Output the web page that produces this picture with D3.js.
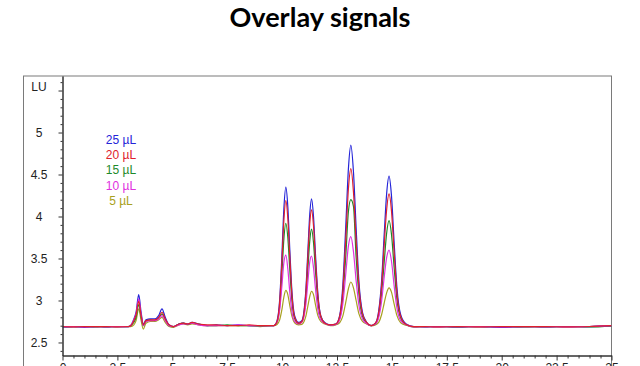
<!DOCTYPE html>
<html><head><meta charset="utf-8">
<script src="https://cdn.jsdelivr.net/npm/d3@7"></script>
<style>body{margin:0;background:#fff}svg{display:block}</style>
</head><body>
<svg id="c" width="640" height="366"></svg>
<script>
// ---- data ----
const times = [
  0, 0.5, 1, 1.5, 2, 2.5,
  3.0, 3.1, 3.25, 3.35, 3.47, 3.58, 3.68, 3.8, 4.0, 4.2, 4.38, 4.53, 4.68, 4.85, 5.05, 5.3, 5.5, 5.7, 5.9, 6.2, 6.6, 7.0, 7.5, 8.0, 8.5, 9.0, 9.5,
  9.62, 9.77, 9.89, 9.99, 10.08, 10.17, 10.26, 10.35, 10.45, 10.57, 10.75,
  10.9, 11.0, 11.08, 11.17, 11.26, 11.34, 11.43, 11.52, 11.63, 11.76, 11.95, 12.2,
  12.45, 12.62, 12.76, 12.9, 13.02, 13.13, 13.25, 13.37, 13.5, 13.66, 13.85, 14.05,
  14.25, 14.4, 14.53, 14.65, 14.76, 14.87, 14.98, 15.1, 15.23, 15.4, 15.65, 16.0,
  16.5, 17, 18, 19, 20, 21, 22, 23, 24, 25
];
const s25 = [
  2.685, 2.69, 2.68, 2.69, 2.685, 2.69,
  2.69, 2.70, 2.78, 2.86, 3.07, 2.86, 2.72, 2.77, 2.78, 2.78, 2.82, 2.90, 2.80, 2.71, 2.69, 2.72, 2.73, 2.72, 2.74, 2.72, 2.70, 2.71, 2.70, 2.71, 2.70, 2.70, 2.70,
  2.70, 2.76, 3.01, 3.53, 4.09, 4.35, 4.12, 3.61, 3.10, 2.82, 2.74,
  2.76, 2.88, 3.12, 3.57, 4.03, 4.21, 4.00, 3.55, 3.08, 2.82, 2.735, 2.71,
  2.72, 2.82, 3.16, 3.89, 4.57, 4.85, 4.53, 3.87, 3.22, 2.86, 2.74, 2.70,
  2.73, 2.88, 3.23, 3.79, 4.27, 4.48, 4.25, 3.70, 3.15, 2.83, 2.72, 2.69,
  2.685, 2.69, 2.685, 2.69, 2.68, 2.69, 2.685, 2.69, 2.69, 2.70
];
const s20 = [
  2.69, 2.685, 2.69, 2.69, 2.69, 2.685,
  2.69, 2.70, 2.76, 2.83, 2.99, 2.82, 2.71, 2.76, 2.77, 2.77, 2.80, 2.86, 2.78, 2.71, 2.69, 2.72, 2.73, 2.72, 2.74, 2.72, 2.71, 2.71, 2.70, 2.70, 2.71, 2.70, 2.70,
  2.70, 2.75, 2.98, 3.45, 3.95, 4.19, 3.98, 3.52, 3.06, 2.80, 2.73,
  2.75, 2.86, 3.08, 3.50, 3.92, 4.08, 3.89, 3.48, 3.05, 2.815, 2.73, 2.71,
  2.72, 2.81, 3.10, 3.73, 4.33, 4.57, 4.29, 3.71, 3.16, 2.84, 2.74, 2.70,
  2.73, 2.86, 3.17, 3.66, 4.08, 4.27, 4.07, 3.58, 3.09, 2.81, 2.715, 2.69,
  2.69, 2.685, 2.69, 2.685, 2.69, 2.69, 2.69, 2.685, 2.69, 2.70
];
const s15 = [
  2.685, 2.69, 2.69, 2.685, 2.69, 2.69,
  2.69, 2.70, 2.74, 2.80, 2.95, 2.80, 2.70, 2.75, 2.77, 2.76, 2.79, 2.84, 2.77, 2.70, 2.69, 2.72, 2.73, 2.72, 2.73, 2.72, 2.70, 2.70, 2.71, 2.70, 2.70, 2.70, 2.70,
  2.70, 2.74, 2.93, 3.31, 3.73, 3.92, 3.75, 3.37, 2.99, 2.785, 2.725,
  2.745, 2.84, 3.02, 3.36, 3.71, 3.85, 3.69, 3.35, 2.99, 2.80, 2.73, 2.71,
  2.715, 2.79, 3.03, 3.53, 4.06, 4.20, 4.12, 3.52, 3.07, 2.81, 2.73, 2.70,
  2.72, 2.83, 3.08, 3.46, 3.80, 3.95, 3.79, 3.40, 3.01, 2.79, 2.71, 2.685,
  2.69, 2.69, 2.685, 2.69, 2.69, 2.685, 2.69, 2.69, 2.685, 2.695
];
const s10 = [
  2.69, 2.69, 2.685, 2.69, 2.69, 2.69,
  2.69, 2.70, 2.77, 2.84, 3.02, 2.83, 2.70, 2.75, 2.76, 2.76, 2.78, 2.82, 2.76, 2.70, 2.69, 2.71, 2.72, 2.72, 2.73, 2.71, 2.70, 2.70, 2.70, 2.71, 2.70, 2.70, 2.70,
  2.70, 2.74, 2.89, 3.17, 3.45, 3.54, 3.38, 3.10, 2.86, 2.75, 2.72,
  2.74, 2.81, 2.95, 3.21, 3.46, 3.53, 3.39, 3.14, 2.89, 2.77, 2.725, 2.705,
  2.715, 2.77, 2.95, 3.32, 3.65, 3.76, 3.58, 3.24, 2.94, 2.78, 2.725, 2.70,
  2.72, 2.80, 2.99, 3.28, 3.51, 3.60, 3.47, 3.18, 2.91, 2.76, 2.71, 2.685,
  2.69, 2.685, 2.69, 2.69, 2.685, 2.69, 2.69, 2.685, 2.69, 2.70
];
const s5 = [
  2.69, 2.69, 2.69, 2.69, 2.685, 2.69,
  2.69, 2.69, 2.71, 2.76, 2.90, 2.76, 2.66, 2.73, 2.75, 2.75, 2.77, 2.80, 2.74, 2.69, 2.68, 2.71, 2.72, 2.71, 2.72, 2.71, 2.70, 2.70, 2.70, 2.70, 2.70, 2.69, 2.70,
  2.70, 2.715, 2.77, 2.89, 3.04, 3.12, 3.07, 2.94, 2.81, 2.735, 2.71,
  2.715, 2.75, 2.81, 2.93, 3.05, 3.11, 3.07, 2.95, 2.82, 2.75, 2.72, 2.70,
  2.71, 2.735, 2.81, 2.98, 3.14, 3.22, 3.15, 3.00, 2.84, 2.75, 2.72, 2.70,
  2.71, 2.74, 2.83, 2.97, 3.09, 3.15, 3.10, 2.96, 2.82, 2.735, 2.705, 2.685,
  2.69, 2.69, 2.685, 2.69, 2.69, 2.69, 2.685, 2.69, 2.69, 2.70
];
const seriesNames = ["25 µL", "20 µL", "15 µL", "10 µL", "5 µL"];
const seriesValues = [s25, s20, s15, s10, s5];
const seriesColors = ["#2424d8", "#e0202c", "#1e8a2a", "#e030e0", "#a8a020"];
const drawOrder = [4, 2, 0, 3, 1];
const xMajor = [0, 2.5, 5, 7.5, 10, 12.5, 15, 17.5, 20, 22.5, 25];
const yMajor = [2.5, 3, 3.5, 4, 4.5, 5, 5.5];
const yLabels = ["2.5", "3", "3.5", "4", "4.5", "5", "LU"];

// ---- drawing ----
const svg = d3.select("#c");
const x = d3.scaleLinear().domain([0, 25]).range([62.5, 611.5]);
const y = d3.scaleLinear().domain([2.345, 5.673]).range([355.5, 76]);

// title
const title = svg.append("text")
  .attr("x", 320).attr("y", 26.5)
  .attr("text-anchor", "middle")
  .style("font-family", "Lato, 'Open Sans', sans-serif")
  .style("font-weight", "bold")
  .style("font-size", "24px")
  .attr("fill", "#000")
  .text("Overlay signals");
const tw = title.node().getComputedTextLength();
title.style("font-size", (24 * 181 / tw).toFixed(2) + "px");

// outer frame
svg.append("rect")
  .attr("x", 23.5).attr("y", 76).attr("width", 588).attr("height", 320)
  .attr("fill", "none").attr("stroke", "#7a7a7a").attr("stroke-width", 1);

// traces
const clip = svg.append("clipPath").attr("id", "pc").append("rect")
  .attr("x", 62.5).attr("y", 76).attr("width", 549).attr("height", 279.5);
const line = d3.line()
  .x((d, i) => x(times[i]))
  .y(d => y(d))
  .curve(d3.curveMonotoneX);
const g = svg.append("g").attr("clip-path", "url(#pc)");
drawOrder.forEach(k => {
  g.append("path")
    .attr("d", line(seriesValues[k]))
    .attr("fill", "none")
    .attr("stroke", seriesColors[k])
    .attr("stroke-width", 1.2)
    .attr("stroke-linejoin", "round");
});

const fontAxis = "'Liberation Sans', Arial, sans-serif";

// y axis
const yMinor = d3.range(24, 57).map(v => v / 10).filter(v => !yMajor.some(m => Math.abs(m - v) < 1e-6));
svg.append("g").attr("transform", "translate(62.5,0)")
  .call(d3.axisLeft(y).tickValues(yMinor).tickSize(2).tickSizeOuter(0).tickFormat(""))
  .call(a => a.selectAll("line,path").attr("stroke", "#333"));
const ya = svg.append("g").attr("transform", "translate(62.5,0)")
  .call(d3.axisLeft(y).tickValues(yMajor).tickSize(4).tickSizeOuter(0)
    .tickFormat((d, i) => yLabels[i]));
ya.selectAll("line,path").attr("stroke", "#333");
ya.selectAll("text")
  .attr("x", 39 - 62.5).attr("text-anchor", "middle")
  .attr("dy", "0.35em")
  .style("font-family", fontAxis).style("font-size", "12px").attr("fill", "#222");
ya.selectAll(".tick").filter(d => d === 5.5).select("text").attr("dy", "0.0em");

// x axis
const xMinor = d3.range(0, 51).map(v => v / 2).filter(v => !xMajor.includes(v));
svg.append("g").attr("transform", "translate(0,355.5)")
  .call(d3.axisBottom(x).tickValues(xMinor).tickSize(3).tickSizeOuter(0).tickFormat(""))
  .call(a => a.selectAll("line,path").attr("stroke", "#333"));
const xa = svg.append("g").attr("transform", "translate(0,355.5)")
  .call(d3.axisBottom(x).tickValues(xMajor).tickSize(5).tickSizeOuter(0).tickFormat(d => d));
xa.selectAll("line,path").attr("stroke", "#333");
xa.selectAll("text").attr("y", 8).attr("dy", "0.71em")
  .style("font-family", fontAxis).style("font-size", "12px").attr("fill", "#222");

// legend
const leg = svg.append("g");
seriesNames.forEach((n, i) => {
  leg.append("text")
    .attr("x", 121).attr("y", 143.5 + i * 15.4)
    .attr("text-anchor", "middle")
    .style("font-family", fontAxis).style("font-size", "12px")
    .attr("fill", seriesColors[i])
    .text(n);
});
</script>
</body></html>
